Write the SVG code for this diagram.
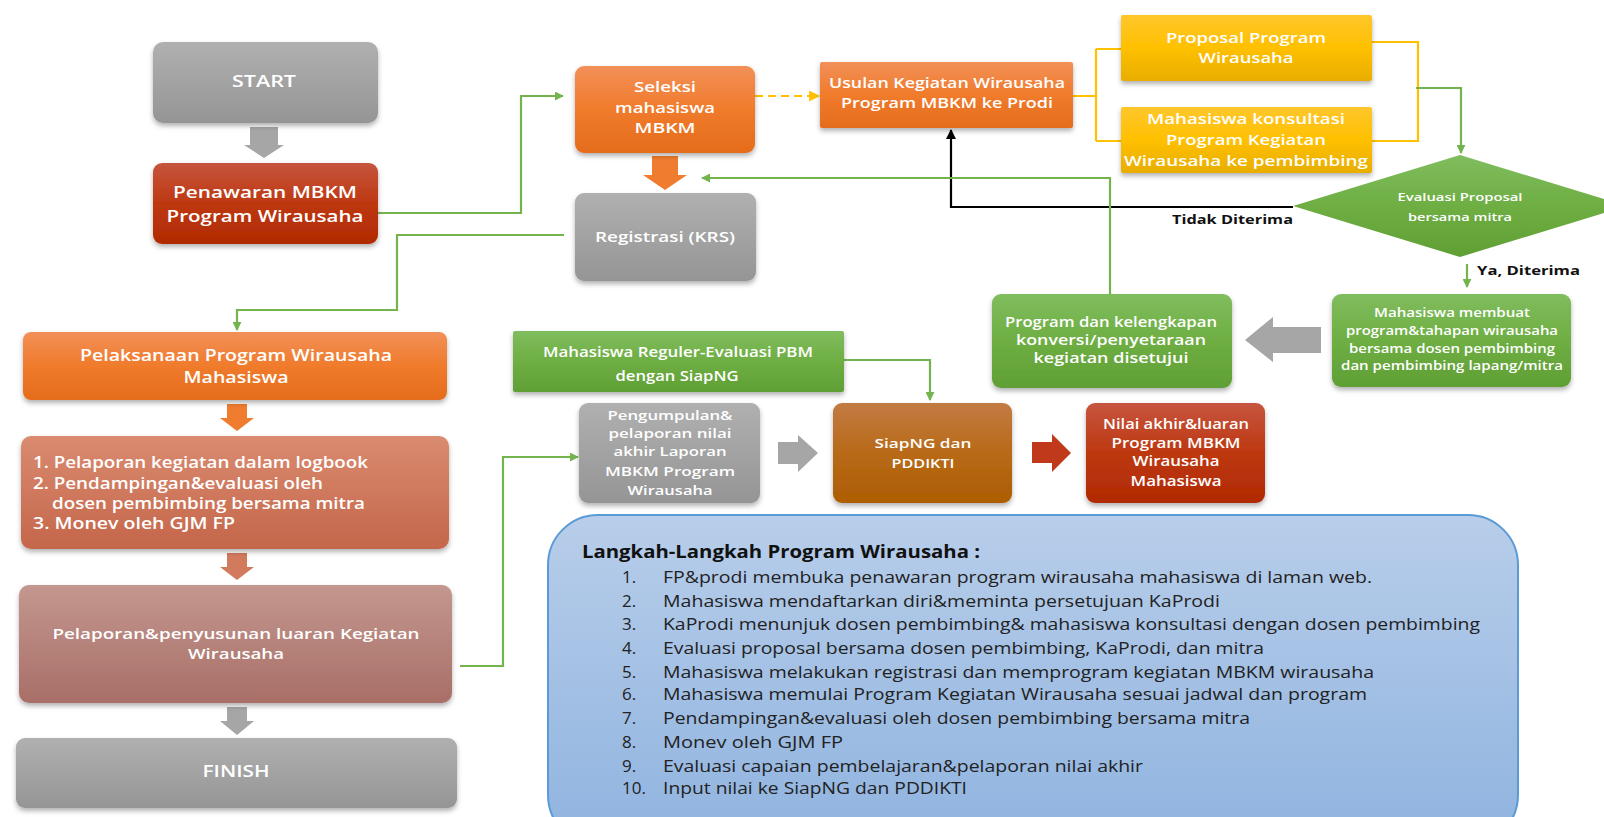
<svg xmlns="http://www.w3.org/2000/svg" width="1604" height="817" viewBox="0 0 1604 817">
<defs>
<style>
.t{font-family:'Open Sans','Liberation Sans',sans-serif;fill:#fff;font-weight:600;text-anchor:middle}
.t.s{text-anchor:start}
.k{font-family:'Open Sans','Liberation Sans',sans-serif;fill:#111;font-weight:700}
.l{font-family:'Open Sans','Liberation Sans',sans-serif;fill:#222;font-size:17px}
.g{fill:none;stroke:#74b44e;stroke-width:2.2}
.y{fill:none;stroke:#ffc000;stroke-width:2.2}
.bk{fill:none;stroke:#000;stroke-width:2.2}
</style>
<filter id="sh" x="-10%" y="-15%" width="120%" height="140%"><feDropShadow dx="0" dy="3" stdDeviation="2.5" flood-color="#000" flood-opacity="0.3"/></filter>
<linearGradient id="gGrey" x1="0" y1="0" x2="0" y2="1"><stop offset="0" stop-color="#b0b0b0"/><stop offset="1" stop-color="#959595"/></linearGradient>
<linearGradient id="gRed" x1="0" y1="0" x2="0" y2="1"><stop offset="0" stop-color="#c6553f"/><stop offset="0.5" stop-color="#bd3810"/><stop offset="1" stop-color="#b02a02"/></linearGradient>
<linearGradient id="gOr" x1="0" y1="0" x2="0" y2="1"><stop offset="0" stop-color="#f29058"/><stop offset="0.5" stop-color="#f07b2c"/><stop offset="1" stop-color="#e46c1c"/></linearGradient>
<linearGradient id="gSal" x1="0" y1="0" x2="0" y2="1"><stop offset="0" stop-color="#da8b70"/><stop offset="1" stop-color="#c4664a"/></linearGradient>
<linearGradient id="gPink" x1="0" y1="0" x2="0" y2="1"><stop offset="0" stop-color="#c3978f"/><stop offset="1" stop-color="#a86f67"/></linearGradient>
<linearGradient id="gYel" x1="0" y1="0" x2="0" y2="1"><stop offset="0" stop-color="#ffc72c"/><stop offset="0.5" stop-color="#ffc000"/><stop offset="1" stop-color="#e8ad00"/></linearGradient>
<linearGradient id="gGrn" x1="0" y1="0" x2="0" y2="1"><stop offset="0" stop-color="#80bd5e"/><stop offset="0.5" stop-color="#6eae43"/><stop offset="1" stop-color="#5f9f34"/></linearGradient>
<linearGradient id="gBrn" x1="0" y1="0" x2="0" y2="1"><stop offset="0" stop-color="#c27b44"/><stop offset="0.5" stop-color="#b86a18"/><stop offset="1" stop-color="#ad5d02"/></linearGradient>
<linearGradient id="gBlue" x1="0" y1="0" x2="0" y2="1"><stop offset="0" stop-color="#b8ceea"/><stop offset="1" stop-color="#8fb3df"/></linearGradient>
<marker id="mg" viewBox="0 0 10 10" refX="9" refY="5" markerWidth="9" markerHeight="9" markerUnits="userSpaceOnUse" orient="auto"><path d="M0,0 L10,5 L0,10 z" fill="#74b44e"/></marker>
<marker id="my" viewBox="0 0 10 10" refX="9" refY="5" markerWidth="11" markerHeight="11" markerUnits="userSpaceOnUse" orient="auto"><path d="M0,0 L10,5 L0,10 z" fill="#ffc000"/></marker>
<marker id="mk" viewBox="0 0 10 10" refX="9" refY="5" markerWidth="10" markerHeight="10" markerUnits="userSpaceOnUse" orient="auto"><path d="M0,0 L10,5 L0,10 z" fill="#000"/></marker>
</defs>
<rect width="1604" height="817" fill="#fff"/>

<g id="connectors">
<path class="g" d="M378,213 H521 V96 H563" marker-end="url(#mg)"/>
<path class="y" d="M755,96 H819" stroke-dasharray="8,5" marker-end="url(#my)"/>
<path class="y" d="M1073,96 H1096 M1096,49 V141 M1096,49 H1121 M1096,141 H1121"/>
<path class="y" d="M1372,42 H1418 V141 H1372"/>
<path class="g" d="M1416,88 H1461 V153" marker-end="url(#mg)"/>
<path class="bk" d="M1293,207 H951 V130" marker-end="url(#mk)"/>
<path class="g" d="M1467,264 V287" marker-end="url(#mg)"/>
<path class="g" d="M1110,294 V178 H702" marker-end="url(#mg)"/>
<path class="g" d="M564,235 H397 V310 H237 V330" marker-end="url(#mg)"/>
<path class="g" d="M460,666 H503 V457 H578" marker-end="url(#mg)"/>
<path class="g" d="M844,360 H930 V400" marker-end="url(#mg)"/>
<text class="k" x="1293" y="224" font-size="13" text-anchor="end" textLength="121" lengthAdjust="spacingAndGlyphs">Tidak Diterima</text>
<text class="k" x="1477" y="275" font-size="13" textLength="103" lengthAdjust="spacingAndGlyphs">Ya, Diterima</text>
</g>

<g id="block-arrows">
<path d="M250,127 H278 V145 H284 L264,158 L244,145 H250 Z" fill="#a6a6a6"/>
<path d="M652,156 H678 V175 H687 L665,190 L643,175 H652 Z" fill="#f07c30"/>
<path d="M227,404 H247 V418 H254 L237,431 L220,418 H227 Z" fill="#f07c30"/>
<path d="M227,553 H247 V567 H254 L237,580 L220,567 H227 Z" fill="#d27a5e"/>
<path d="M227,707 H247 V721 H254 L237,735 L220,721 H227 Z" fill="#a6a6a6"/>
<path d="M778,442 H798 V435 L818,453 L798,472 V464 H778 Z" fill="#a6a6a6"/>
<path d="M1032,442 H1052 V434 L1071,453 L1052,472 V463 H1032 Z" fill="#c0391b"/>
<path d="M1321,327 H1273 V317 L1245,340 L1273,362 V353 H1321 Z" fill="#a6a6a6"/>
</g>

<g id="start">
<rect x="153" y="42" width="225" height="81" rx="10" fill="url(#gGrey)" filter="url(#sh)"/>
<text class="t" x="264" y="87" font-size="16" font-weight="700" textLength="64" lengthAdjust="spacingAndGlyphs">START</text>
</g>
<g id="penawaran">
<rect x="153" y="163" width="225" height="81" rx="9" fill="url(#gRed)" filter="url(#sh)"/>
<text class="t" x="265" y="198" font-size="17" textLength="184" lengthAdjust="spacingAndGlyphs">Penawaran MBKM</text>
<text class="t" x="265" y="222" font-size="17" textLength="197" lengthAdjust="spacingAndGlyphs">Program Wirausaha</text>
</g>
<g id="seleksi">
<rect x="575" y="66" width="180" height="87" rx="9" fill="url(#gOr)" filter="url(#sh)"/>
<text class="t" x="665" y="92" font-size="15" textLength="62" lengthAdjust="spacingAndGlyphs">Seleksi</text>
<text class="t" x="665" y="113" font-size="15" textLength="100" lengthAdjust="spacingAndGlyphs">mahasiswa</text>
<text class="t" x="665" y="133" font-size="15" textLength="61" lengthAdjust="spacingAndGlyphs">MBKM</text>
</g>
<g id="registrasi">
<rect x="575" y="193" width="181" height="88" rx="9" fill="url(#gGrey)" filter="url(#sh)"/>
<text class="t" x="665" y="242" font-size="15" textLength="140" lengthAdjust="spacingAndGlyphs">Registrasi (KRS)</text>
</g>
<g id="usulan">
<rect x="820" y="62" width="253" height="66" rx="2" fill="url(#gOr)" filter="url(#sh)"/>
<text class="t" x="947" y="88" font-size="15" textLength="236" lengthAdjust="spacingAndGlyphs">Usulan Kegiatan Wirausaha</text>
<text class="t" x="947" y="108" font-size="15" textLength="212" lengthAdjust="spacingAndGlyphs">Program MBKM ke Prodi</text>
</g>
<g id="proposal">
<rect x="1121" y="15" width="251" height="66" rx="2" fill="url(#gYel)" filter="url(#sh)"/>
<text class="t" x="1246" y="43" font-size="15" textLength="160" lengthAdjust="spacingAndGlyphs">Proposal Program</text>
<text class="t" x="1246" y="63" font-size="15" textLength="95" lengthAdjust="spacingAndGlyphs">Wirausaha</text>
</g>
<g id="konsultasi">
<rect x="1121" y="107" width="251" height="66" rx="2" fill="url(#gYel)" filter="url(#sh)"/>
<text class="t" x="1246" y="124" font-size="15" textLength="198" lengthAdjust="spacingAndGlyphs">Mahasiswa konsultasi</text>
<text class="t" x="1246" y="145" font-size="15" textLength="160" lengthAdjust="spacingAndGlyphs">Program Kegiatan</text>
<text class="t" x="1246" y="166" font-size="15" textLength="244" lengthAdjust="spacingAndGlyphs">Wirausaha ke pembimbing</text>
</g>
<g id="evaluasi">
<path d="M1460,155 L1627,206 L1460,257 L1293,206 Z" fill="url(#gGrn)"/>
<text class="t" x="1460" y="201" font-size="11" textLength="125" lengthAdjust="spacingAndGlyphs">Evaluasi  Proposal</text>
<text class="t" x="1460" y="221" font-size="11" textLength="104" lengthAdjust="spacingAndGlyphs">bersama  mitra</text>
</g>
<g id="membuat">
<rect x="1332" y="294" width="239" height="93" rx="9" fill="url(#gGrn)" filter="url(#sh)"/>
<text class="t" x="1452" y="317" font-size="12" textLength="156" lengthAdjust="spacingAndGlyphs">Mahasiswa membuat</text>
<text class="t" x="1452" y="335" font-size="12" textLength="212" lengthAdjust="spacingAndGlyphs">program&amp;tahapan wirausaha</text>
<text class="t" x="1452" y="353" font-size="12" textLength="206" lengthAdjust="spacingAndGlyphs">bersama dosen pembimbing</text>
<text class="t" x="1452" y="370" font-size="12" textLength="222" lengthAdjust="spacingAndGlyphs">dan pembimbing lapang/mitra</text>
</g>
<g id="disetujui">
<rect x="992" y="294" width="240" height="94" rx="9" fill="url(#gGrn)" filter="url(#sh)"/>
<text class="t" x="1111" y="327" font-size="13.5" textLength="212" lengthAdjust="spacingAndGlyphs">Program dan kelengkapan</text>
<text class="t" x="1111" y="345" font-size="13.5" textLength="190" lengthAdjust="spacingAndGlyphs">konversi/penyetaraan</text>
<text class="t" x="1111" y="363" font-size="13.5" textLength="155" lengthAdjust="spacingAndGlyphs">kegiatan disetujui</text>
</g>
<g id="reguler">
<rect x="513" y="331" width="331" height="61" rx="2" fill="url(#gGrn)" filter="url(#sh)"/>
<text class="t" x="678" y="357" font-size="13.5" textLength="270" lengthAdjust="spacingAndGlyphs">Mahasiswa  Reguler-Evaluasi  PBM</text>
<text class="t" x="677" y="381" font-size="13.5" textLength="123" lengthAdjust="spacingAndGlyphs">dengan  SiapNG</text>
</g>
<g id="pengumpulan">
<rect x="579" y="403" width="181" height="100" rx="9" fill="url(#gGrey)" filter="url(#sh)"/>
<text class="t" x="670" y="420" font-size="13" textLength="125" lengthAdjust="spacingAndGlyphs">Pengumpulan&amp;</text>
<text class="t" x="670" y="438" font-size="13" textLength="123" lengthAdjust="spacingAndGlyphs">pelaporan nilai</text>
<text class="t" x="670" y="456" font-size="13" textLength="113" lengthAdjust="spacingAndGlyphs">akhir Laporan</text>
<text class="t" x="670" y="476" font-size="13" textLength="130" lengthAdjust="spacingAndGlyphs">MBKM Program</text>
<text class="t" x="670" y="495" font-size="13" textLength="85" lengthAdjust="spacingAndGlyphs">Wirausaha</text>
</g>
<g id="siapng">
<rect x="833" y="403" width="179" height="100" rx="9" fill="url(#gBrn)" filter="url(#sh)"/>
<text class="t" x="923" y="448" font-size="13" textLength="97" lengthAdjust="spacingAndGlyphs">SiapNG dan</text>
<text class="t" x="923" y="468" font-size="13" textLength="63" lengthAdjust="spacingAndGlyphs">PDDIKTI</text>
</g>
<g id="nilai">
<rect x="1086" y="403" width="179" height="100" rx="9" fill="url(#gRed)" filter="url(#sh)"/>
<text class="t" x="1176" y="429" font-size="13.5" textLength="146" lengthAdjust="spacingAndGlyphs">Nilai akhir&amp;luaran</text>
<text class="t" x="1176" y="448" font-size="13.5" textLength="129" lengthAdjust="spacingAndGlyphs">Program MBKM</text>
<text class="t" x="1176" y="466" font-size="13.5" textLength="87" lengthAdjust="spacingAndGlyphs">Wirausaha</text>
<text class="t" x="1176" y="486" font-size="13.5" textLength="91" lengthAdjust="spacingAndGlyphs">Mahasiswa</text>
</g>
<g id="pelaksanaan">
<rect x="23" y="332" width="424" height="68" rx="8" fill="url(#gOr)" filter="url(#sh)"/>
<text class="t" x="236" y="361" font-size="17" textLength="312" lengthAdjust="spacingAndGlyphs">Pelaksanaan Program Wirausaha</text>
<text class="t" x="236" y="383" font-size="17" textLength="105" lengthAdjust="spacingAndGlyphs">Mahasiswa</text>
</g>
<g id="monitoring">
<rect x="21" y="436" width="428" height="113" rx="10" fill="url(#gSal)" filter="url(#sh)"/>
<text class="t s" x="33" y="468" font-size="16" textLength="335" lengthAdjust="spacingAndGlyphs">1. Pelaporan kegiatan dalam logbook</text>
<text class="t s" x="33" y="489" font-size="16" textLength="290" lengthAdjust="spacingAndGlyphs">2. Pendampingan&amp;evaluasi oleh</text>
<text class="t s" x="52" y="509" font-size="16" textLength="313" lengthAdjust="spacingAndGlyphs">dosen pembimbing bersama mitra</text>
<text class="t s" x="33" y="529" font-size="16" textLength="202" lengthAdjust="spacingAndGlyphs">3. Monev oleh GJM FP</text>
</g>
<g id="pelaporan">
<rect x="19" y="585" width="433" height="118" rx="10" fill="url(#gPink)" filter="url(#sh)"/>
<text class="t" x="236" y="639" font-size="15" textLength="367" lengthAdjust="spacingAndGlyphs">Pelaporan&amp;penyusunan luaran Kegiatan</text>
<text class="t" x="236" y="659" font-size="15" textLength="96" lengthAdjust="spacingAndGlyphs">Wirausaha</text>
</g>
<g id="finish">
<rect x="16" y="738" width="441" height="70" rx="9" fill="url(#gGrey)" filter="url(#sh)"/>
<text class="t" x="236" y="777" font-size="16" font-weight="700" textLength="67" lengthAdjust="spacingAndGlyphs">FINISH</text>
</g>

<g id="langkah">
<rect x="548" y="515" width="970" height="330" rx="50" fill="url(#gBlue)" stroke="#5b9bd5" stroke-width="2"/>
<text class="k" x="582" y="558" font-size="18" textLength="398" lengthAdjust="spacingAndGlyphs">Langkah-Langkah Program Wirausaha :</text>
<g class="l">
<text x="622" y="583">1.</text><text x="663" y="583" textLength="709" lengthAdjust="spacingAndGlyphs">FP&amp;prodi membuka penawaran program wirausaha mahasiswa di laman web.</text>
<text x="622" y="607">2.</text><text x="663" y="607" textLength="557" lengthAdjust="spacingAndGlyphs">Mahasiswa mendaftarkan diri&amp;meminta persetujuan KaProdi</text>
<text x="622" y="630">3.</text><text x="663" y="630" textLength="817" lengthAdjust="spacingAndGlyphs">KaProdi menunjuk dosen pembimbing&amp; mahasiswa konsultasi dengan dosen pembimbing</text>
<text x="622" y="654">4.</text><text x="663" y="654" textLength="601" lengthAdjust="spacingAndGlyphs">Evaluasi proposal bersama dosen pembimbing, KaProdi, dan mitra</text>
<text x="622" y="678">5.</text><text x="663" y="678" textLength="711" lengthAdjust="spacingAndGlyphs">Mahasiswa melakukan registrasi dan memprogram kegiatan MBKM wirausaha</text>
<text x="622" y="700">6.</text><text x="663" y="700" textLength="704" lengthAdjust="spacingAndGlyphs">Mahasiswa memulai Program Kegiatan Wirausaha sesuai jadwal dan program</text>
<text x="622" y="724">7.</text><text x="663" y="724" textLength="587" lengthAdjust="spacingAndGlyphs">Pendampingan&amp;evaluasi oleh dosen pembimbing bersama mitra</text>
<text x="622" y="748">8.</text><text x="663" y="748" textLength="180" lengthAdjust="spacingAndGlyphs">Monev oleh GJM FP</text>
<text x="622" y="772">9.</text><text x="663" y="772" textLength="480" lengthAdjust="spacingAndGlyphs">Evaluasi capaian pembelajaran&amp;pelaporan nilai akhir</text>
<text x="622" y="794">10.</text><text x="663" y="794" textLength="304" lengthAdjust="spacingAndGlyphs">Input nilai ke SiapNG dan PDDIKTI</text>
</g>
</g>
</svg>
